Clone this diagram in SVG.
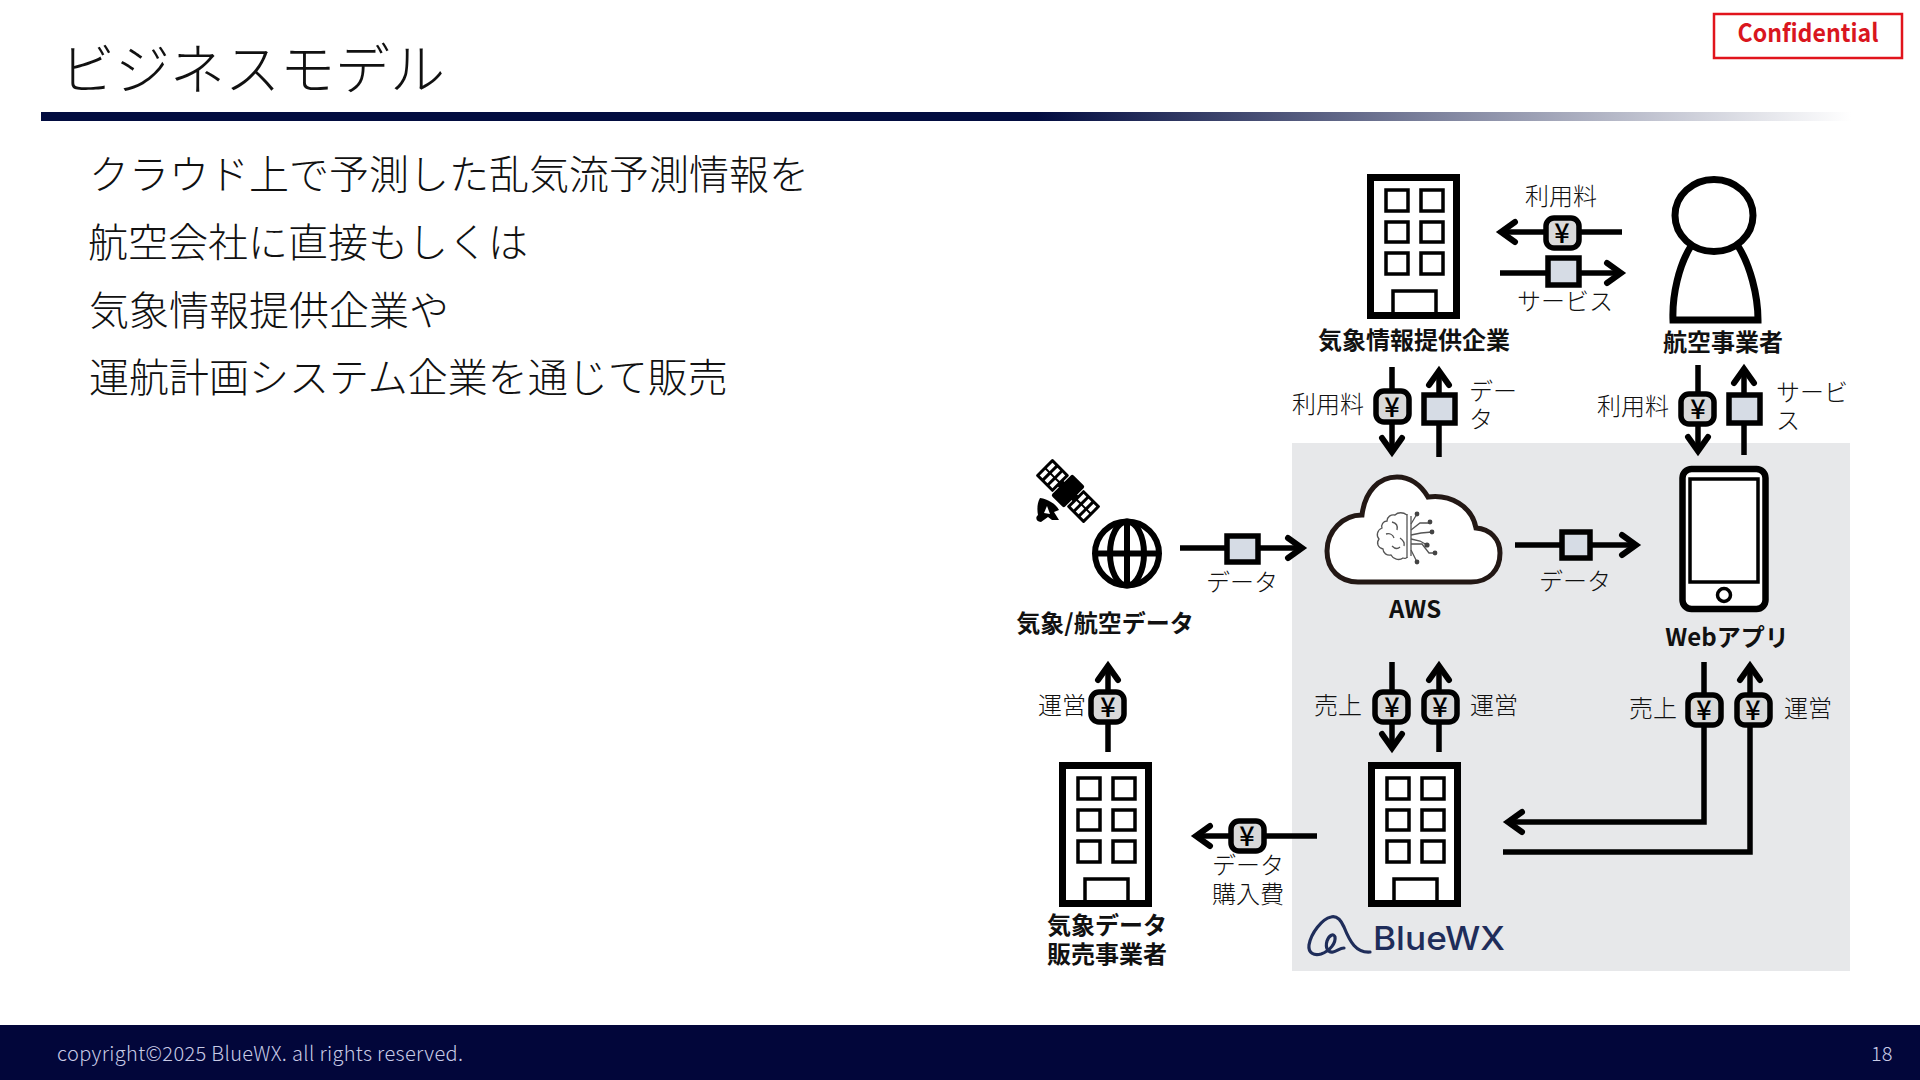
<svg xmlns="http://www.w3.org/2000/svg" width="1920" height="1080" viewBox="0 0 1920 1080">
<style>
text{font-family:"Noto Sans CJK JP","Liberation Sans",sans-serif}
.t{font-size:24px;font-weight:300;fill:#111}
.m{text-anchor:middle}
.b{font-size:24px;font-weight:700;fill:#111}
.body{font-size:40px;font-weight:300;fill:#111}
.yr{fill:#d9d9d9;stroke:#000;stroke-width:5.5}
.sq{fill:#d6dce5;stroke:#000;stroke-width:5.5}
.yt{font-size:27px;font-weight:500;fill:#000;text-anchor:middle}
.ln{fill:none;stroke:#000;stroke-width:5.5}
.a{marker-end:url(#ah)}
.br{fill:none;stroke:#555;stroke-width:1.3}
</style>
<defs>
<linearGradient id="bar" x1="0" y1="0" x2="1" y2="0"><stop offset="0" stop-color="#020c40"/><stop offset="0.55" stop-color="#020c40"/><stop offset="1" stop-color="#ffffff"/></linearGradient>
<marker id="ah" markerUnits="userSpaceOnUse" markerWidth="36" markerHeight="36" viewBox="-24 -18 36 36" refX="-1" refY="0" orient="auto"><path d="M-14,-10 L0,0 L-14,10" fill="none" stroke="#000" stroke-width="6" stroke-linecap="round"/></marker>
<g id="bld">
<rect x="3.5" y="3.5" width="86" height="138" fill="#fff" stroke="#000" stroke-width="7"/>
<g fill="none" stroke="#000" stroke-width="3.5">
<rect x="19" y="16" width="22" height="21"/><rect x="54" y="16" width="22" height="21"/>
<rect x="19" y="48" width="22" height="20"/><rect x="54" y="48" width="22" height="20"/>
<rect x="19" y="79" width="22" height="21"/><rect x="54" y="79" width="22" height="21"/>
<path d="M26,141V117H69V141"/>
</g>
</g>
</defs>
<rect width="1920" height="1080" fill="#fff"/>
<g id="header">
<text x="60" y="89" font-size="55" font-weight="300" fill="#111">ビジネスモデル</text>
<rect x="41" y="112" width="1810" height="9" fill="url(#bar)"/>
</g>
<g id="confidential">
<rect x="1714" y="14" width="188" height="44" fill="#fff" stroke="#e1141c" stroke-width="2.5"/>
<text x="1808" y="42" font-size="25" font-weight="700" fill="#d9161e" text-anchor="middle" textLength="141" lengthAdjust="spacingAndGlyphs">Confidential</text>
</g>
<g id="body-text">
<text class="body" x="89" y="189">クラウド上で予測した乱気流予測情報を</text>
<text class="body" x="88" y="257">航空会社に直接もしくは</text>
<text class="body" x="89" y="325">気象情報提供企業や</text>
<text class="body" x="89" y="392">運航計画システム企業を通じて販売</text>
</g>
<rect id="panel" x="1292" y="443" width="558" height="528" fill="#e7e8ea"/>
<g id="connectors">
<path class="ln a" d="M1622,232H1502"/>
<path class="ln a" d="M1500,273H1620"/>
<path class="ln a" d="M1392,367V451"/>
<path class="ln a" d="M1439,457V372"/>
<path class="ln a" d="M1698,365V450"/>
<path class="ln a" d="M1744,455V370"/>
<path class="ln a" d="M1180,548H1301"/>
<path class="ln a" d="M1515,545H1635"/>
<path class="ln a" d="M1108,752V667"/>
<path class="ln a" d="M1392,662V747"/>
<path class="ln a" d="M1439,752V667"/>
<path class="ln a" d="M1704,662V822H1509"/>
<path class="ln a" d="M1503,852H1750V667"/>
<path class="ln a" d="M1317,836H1197"/>
</g>
<g id="connector-tokens">
<g><rect class="yr" x="1546" y="218" width="33" height="30" rx="8"/><text class="yt" x="1562" y="243">¥</text></g>
<rect class="sq" x="1548" y="258" width="31" height="27"/>
<g><rect class="yr" x="1376" y="391" width="33" height="31" rx="8"/><text class="yt" x="1392" y="417">¥</text></g>
<rect class="sq" x="1424" y="395" width="31" height="28"/>
<g><rect class="yr" x="1681" y="394" width="33" height="30" rx="8"/><text class="yt" x="1698" y="419">¥</text></g>
<rect class="sq" x="1729" y="395" width="31" height="28"/>
<rect class="sq" x="1227" y="536" width="31" height="26"/>
<rect class="sq" x="1562" y="532" width="28" height="26"/>
<g><rect class="yr" x="1091" y="692" width="33" height="30" rx="8"/><text class="yt" x="1108" y="717">¥</text></g>
<g><rect class="yr" x="1375" y="692" width="33" height="30" rx="8"/><text class="yt" x="1392" y="717">¥</text></g>
<g><rect class="yr" x="1424" y="692" width="33" height="30" rx="8"/><text class="yt" x="1440" y="717">¥</text></g>
<g><rect class="yr" x="1688" y="695" width="33" height="30" rx="8"/><text class="yt" x="1704" y="720">¥</text></g>
<g><rect class="yr" x="1737" y="695" width="33" height="30" rx="8"/><text class="yt" x="1753" y="720">¥</text></g>
<g><rect class="yr" x="1231" y="821" width="33" height="30" rx="8"/><text class="yt" x="1247" y="846">¥</text></g>
</g>
<g id="connector-labels">
<text class="t m" x="1561" y="205">利用料</text>
<text class="t m" x="1565" y="310">サービス</text>
<text class="t" x="1292" y="413">利用料</text>
<text class="t" x="1469" y="400">デー</text>
<text class="t" x="1469" y="428">タ</text>
<text class="t" x="1597" y="415">利用料</text>
<text class="t" x="1776" y="401">サービ</text>
<text class="t" x="1776" y="429">ス</text>
<text class="t m" x="1242" y="591">データ</text>
<text class="t m" x="1575" y="590">データ</text>
<text class="t" x="1038" y="714">運営</text>
<text class="t" x="1314" y="714">売上</text>
<text class="t" x="1470" y="714">運営</text>
<text class="t" x="1629" y="717">売上</text>
<text class="t" x="1784" y="717">運営</text>
<text class="t m" x="1248" y="874">データ</text>
<text class="t m" x="1248" y="903">購入費</text>
</g>
<g id="weather-provider">
<use href="#bld" x="1367" y="174"/>
<text class="b m" x="1414" y="349">気象情報提供企業</text>
</g>
<g id="airline">
<path d="M1691,246C1679,265 1672,295 1673,320H1758C1758,295 1750,265 1738,246" fill="#fff" stroke="#000" stroke-width="7"/>
<ellipse cx="1714" cy="215.5" rx="39" ry="36" fill="#fff" stroke="#000" stroke-width="7"/>
<text class="b m" x="1723" y="351">航空事業者</text>
</g>
<g id="weather-data">
<g transform="translate(1068 491) rotate(45)">
<rect x="-34" y="-12" width="24" height="24" rx="1.5" fill="#000"/>
<rect x="10" y="-12" width="24" height="24" rx="1.5" fill="#000"/>
<g fill="#fff">
<rect x="-31" y="-9" width="4" height="8"/><rect x="-31" y="1" width="4" height="8"/><rect x="-24" y="-9" width="4" height="8"/><rect x="-24" y="1" width="4" height="8"/><rect x="-17" y="-9" width="4" height="8"/><rect x="-17" y="1" width="4" height="8"/>
<rect x="13" y="-9" width="4" height="8"/><rect x="13" y="1" width="4" height="8"/><rect x="20" y="-9" width="4" height="8"/><rect x="20" y="1" width="4" height="8"/><rect x="27" y="-9" width="4" height="8"/><rect x="27" y="1" width="4" height="8"/>
</g>
<rect x="-9" y="-15" width="18" height="30" rx="2" fill="#000"/>
<rect x="-11" y="-4" width="22" height="8" fill="#000"/>
</g>
<path d="M1040,498C1048,499 1056,504 1059,510L1054,512L1059,520H1052L1048,517L1041,522C1036,522 1035,517 1038,515C1037,510 1037,503 1040,498Z" fill="#000"/>
<path d="M1044,513L1047,506L1050,514Z" fill="#fff"/>
<g fill="none" stroke="#000" stroke-width="6">
<circle cx="1127" cy="553.5" r="32" fill="#fff"/>
<ellipse cx="1127" cy="553.5" rx="17" ry="32"/>
<path d="M1127,521V586M1095,553.5H1159"/>
</g>
<text class="b m" x="1105" y="632">気象/航空データ</text>
</g>
<g id="aws">
<path d="M1358,582C1340,582 1327,570 1327,551C1327,531 1343,515 1362,515C1365,491 1379,477 1397,477C1410,477 1421,485 1428,497C1450,494 1472,506 1476,528C1490,529 1500,539 1500,553C1500,570 1489,582 1471,582Z" fill="#fff" stroke="#231815" stroke-width="5"/>
<path class="br" d="M1407,515C1403,512 1398,512 1395,515C1391,514 1387,517 1387,521C1383,521 1381,525 1382,528C1377,530 1376,536 1379,539C1376,543 1378,548 1383,549C1383,553 1387,556 1391,555C1393,559 1399,561 1403,558C1405,559 1407,558 1407,557"/>
<path class="br" d="M1407,514V558M1411,516V556M1392,522C1396,523 1398,526 1397,530M1386,534C1390,533 1393,535 1394,538M1400,538C1403,540 1405,542 1404,546M1392,546C1395,549 1398,549 1400,547"/>
<path class="br" d="M1411,524L1417,514M1411,530L1420,523H1430M1411,535L1421,533L1432,532M1411,539L1420,541L1427,545M1411,544H1422L1429,553H1435M1411,550L1417,562"/>
<g fill="#444"><circle cx="1417" cy="514" r="2.4"/><circle cx="1430" cy="522" r="2.4"/><circle cx="1432" cy="532" r="2.4"/><circle cx="1427" cy="545" r="2.6"/><circle cx="1435" cy="553" r="2.4"/><circle cx="1417" cy="562" r="2.4"/></g>
<text class="b m" x="1415" y="618" font-size="25">AWS</text>
</g>
<g id="webapp">
<rect x="1682.5" y="469" width="83" height="140" rx="9" fill="#fff" stroke="#000" stroke-width="6.5"/>
<rect x="1690" y="479" width="68" height="103" fill="#fff" stroke="#000" stroke-width="3.5"/>
<circle cx="1724" cy="595" r="6.5" fill="#fff" stroke="#000" stroke-width="3.5"/>
<text class="b m" x="1727" y="646">Webアプリ</text>
</g>
<g id="bluewx">
<use href="#bld" x="1368" y="762"/>
<path d="M1370,952C1356,953 1350,942 1344,927C1340,918 1335,916 1331,917C1322,919 1311,933 1309,945C1308,953 1314,956 1321,954C1330,951 1336,943 1335,937C1334,933 1329,935 1327,941C1325,948 1328,953 1333,952C1337,951 1340,948 1344,948" fill="none" stroke="#1f2d5a" stroke-width="3.2" stroke-linecap="round"/>
<text x="1373" y="950" font-size="33" font-weight="500" fill="#1f2d5a" textLength="132" lengthAdjust="spacingAndGlyphs" style="font-family:Inter,sans-serif">BlueWX</text>
</g>
<g id="data-vendor">
<use href="#bld" x="1059" y="762"/>
<text class="b m" x="1107" y="934">気象データ</text>
<text class="b m" x="1107" y="963">販売事業者</text>
</g>
<g id="footer">
<rect x="0" y="1025" width="1920" height="55" fill="#02063a"/>
<text x="57" y="1061" font-size="20" font-weight="300" fill="#c8cbe6" textLength="406">copyright©2025 BlueWX. all rights reserved.</text>
<text x="1871" y="1061" font-size="20" font-weight="300" fill="#c8cbe6">18</text>
</g>
</svg>
